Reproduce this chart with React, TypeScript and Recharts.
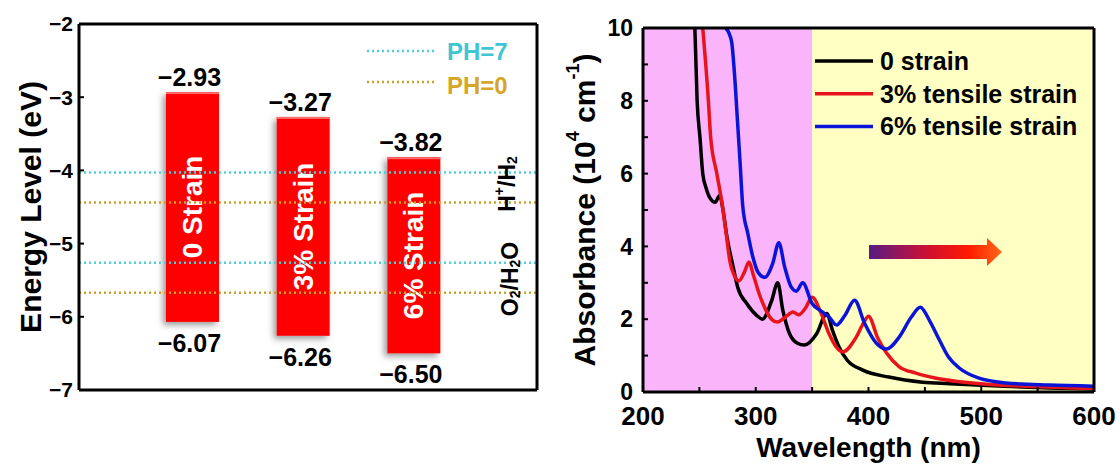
import React from "react";
import {
  Bar,
  BarChart,
  Label,
  Legend,
  Line,
  LineChart,
  ReferenceArea,
  ReferenceLine,
  XAxis,
  YAxis,
} from "recharts";

const FONT = '"Liberation Sans", Arial, Helvetica, sans-serif';

// left panel: band edges (eV)
const strainNames = ["0 Strain", "3% Strain", "6% Strain"];
const cbmLevels = [-2.93, -3.27, -3.82];
const vbmLevels = [-6.07, -6.26, -6.5];
const energyTicks = [-7, -6, -5, -4, -3, -2];
const ph7Levels = [-4.03, -5.26];
const ph0Levels = [-4.44, -5.67];

// right panel: absorbance (10^4 cm^-1) vs wavelength (nm)
const noStrain: [number, number][] = [
  [246, 10], [248, 8], [250.5, 7], [253, 6], [256, 5.6], [260, 5.3], [264, 5.21],
  [268, 5.4], [271, 5.0], [274, 4.35], [280, 3.43], [284, 2.88], [292, 2.43],
  [301, 2.1], [306, 2.0], [314, 2.5], [319.5, 3.0], [324, 2.25], [330, 1.6],
  [337, 1.34], [343, 1.29], [354, 1.6], [363, 2.16], [368, 1.7], [374, 1.23],
  [381, 0.88], [395, 0.6], [418, 0.41], [448, 0.27], [472, 0.23], [520, 0.16],
  [560, 0.11], [600, 0.08],
];
const tensile3: [number, number][] = [
  [253, 10], [258, 8], [260, 7], [265.5, 6], [270, 5.2], [274, 4.3], [277, 3.6],
  [281, 3.2], [285, 3.05], [290, 3.3], [294, 3.57], [298, 3.2], [303, 2.7],
  [309, 2.25], [314, 2.0], [319, 1.92], [326, 2.05], [333, 2.2], [338, 2.12],
  [344, 2.3], [350, 2.6], [358, 2.16], [365, 1.6], [371.5, 1.23], [377, 1.1],
  [389, 1.5], [396, 1.92], [400, 2.08], [408, 1.5], [416, 1.07], [427, 0.7],
  [442, 0.52], [460, 0.38], [492, 0.25], [540, 0.16], [600, 0.1],
];
const tensile6: [number, number][] = [
  [273.5, 10], [278.5, 9.64], [281, 8.8], [283.8, 7.45], [286, 6.36], [288.5, 5.1],
  [293, 4.35], [297.5, 3.7], [302, 3.29], [308, 3.15], [315, 3.53], [320.5, 4.1],
  [325.7, 3.43], [331.5, 2.88], [336, 2.77], [341.6, 3.0], [350, 2.43], [359, 2.2],
  [365, 2.06], [371.6, 1.84], [379, 2.1], [387.6, 2.52], [396.5, 1.89], [407, 1.34],
  [416, 1.18], [427, 1.5], [438, 2.06], [446, 2.33], [454, 1.97], [463, 1.42],
  [471, 0.96], [480.5, 0.66], [498, 0.38], [522, 0.25], [560, 0.19], [600, 0.16],
];
const wavelengthTicks = [200, 250, 300, 350, 400, 450, 500, 550, 600];
const absorbanceTicks = [0, 1, 2, 3, 4, 5, 6, 7, 8, 9, 10];

const minus = (v: number, digits = 0) =>
  v < 0 ? "\u2212" + Math.abs(v).toFixed(digits) : v.toFixed(digits);

const bandData = strainNames.map((name, i) => ({
  name,
  band: [vbmLevels[i], cbmLevels[i]],
  cbm: cbmLevels[i],
  vbm: vbmLevels[i],
}));

const toPoints = (arr: [number, number][]) => arr.map(([wl, a]) => ({ wl, a }));

function StrainBar(props: any) {
  const { x, y, width, height, payload } = props;
  const cx = x + width / 2;
  return (
    <g>
      <rect x={x} y={y} width={width} height={height} fill="#ff0000" filter="url(#barShadow)" />
      <rect x={x} y={y} width={width} height={2} fill="#ff6a6a" />
      <text
        x={cx}
        y={y + height / 2}
        transform={`rotate(-90 ${cx} ${y + height / 2})`}
        textAnchor="middle"
        dominantBaseline="central"
        fill="#fff"
        fontSize={28}
        fontWeight="bold"
        fontFamily={FONT}
      >
        {payload.name}
      </text>
      <text x={cx - 3} y={y - 6} textAnchor="middle" fontSize={25} fontWeight="bold" fontFamily={FONT}>
        {minus(payload.cbm, 2)}
      </text>
      <text x={cx - 3} y={y + height + 30} textAnchor="middle" fontSize={25} fontWeight="bold" fontFamily={FONT}>
        {minus(payload.vbm, 2)}
      </text>
    </g>
  );
}

function SpectraLegend({ payload }: any) {
  return (
    <svg width={300} height={120}>
      {(payload || []).map((p: any, i: number) => (
        <g key={p.value}>
          <line x1={0} x2={58} y1={14 + i * 32.7} y2={14 + i * 32.7} stroke={p.color} strokeWidth={3.5} />
          <text x={65} y={14 + i * 32.7 + 9} fontSize={25} fontWeight="bold" fontFamily={FONT}>
            {p.value}
          </text>
        </g>
      ))}
    </svg>
  );
}

const tickStyle = (size: number) => ({
  fontSize: size,
  fontWeight: "bold",
  fontFamily: FONT,
  fill: "#000",
});

export default function App() {
  return (
    <div style={{ position: "absolute", left: 0, top: 0, width: 1120, height: 465, background: "#fff" }}>
      <div style={{ position: "absolute", left: 0, top: 0 }}>
        <BarChart
          width={560}
          height={465}
          data={bandData}
          margin={{ top: 23, right: 22, bottom: 74, left: 0 }}
        >
          <defs>
            <filter id="barShadow" x="-40%" y="-10%" width="180%" height="130%">
              <feDropShadow dx={-3} dy={3} stdDeviation={3} floodColor="#555" floodOpacity={0.6} />
            </filter>
          </defs>
          <XAxis
            dataKey="name"
            padding={{ left: 58, right: 68 }}
            tick={false}
            tickLine={false}
            height={1}
            axisLine={{ stroke: "#000", strokeWidth: 3 }}
          />
          <XAxis
            xAxisId="top"
            orientation="top"
            dataKey="name"
            tick={false}
            tickLine={false}
            height={1}
            axisLine={{ stroke: "#000", strokeWidth: 3 }}
          />
          <YAxis
            domain={[-7, -2]}
            ticks={energyTicks}
            width={79}
            tickSize={-5}
            tickMargin={11}
            tickFormatter={(v: number) => minus(v)}
            tick={tickStyle(21)}
            tickLine={{ stroke: "#000", strokeWidth: 2 }}
            axisLine={{ stroke: "#000", strokeWidth: 3 }}
          >
            <Label
              content={({ viewBox }: any) => {
                const cy = viewBox.y + viewBox.height / 2;
                return (
                  <text
                    x={30}
                    y={cy}
                    transform={`rotate(-90 30 ${cy})`}
                    textAnchor="middle"
                    dominantBaseline="central"
                    fontSize={30}
                    fontWeight="bold"
                    fontFamily={FONT}
                  >
                    Energy Level (eV)
                  </text>
                );
              }}
            />
          </YAxis>
          <YAxis
            yAxisId="right"
            orientation="right"
            domain={[-7, -2]}
            ticks={energyTicks}
            width={1}
            tick={false}
            tickSize={-5}
            tickLine={{ stroke: "#000", strokeWidth: 2 }}
            axisLine={{ stroke: "#000", strokeWidth: 3 }}
          />
          {ph7Levels.map((v) => (
            <ReferenceLine key={"p7" + v} y={v} stroke="#4fcfdc" strokeWidth={2.5} strokeDasharray="2 3" />
          ))}
          {ph0Levels.map((v) => (
            <ReferenceLine key={"p0" + v} y={v} stroke="#c9a22a" strokeWidth={2.5} strokeDasharray="2 3" />
          ))}
          <Bar dataKey="band" barSize={53} shape={StrainBar} isAnimationActive={false} />
        </BarChart>
      </div>

      <div style={{ position: "absolute", left: 540, top: 0 }}>
        <LineChart width={580} height={465} margin={{ top: 27, right: 25, bottom: 0, left: 0 }}>
          <XAxis
            dataKey="wl"
            type="number"
            domain={[200, 600]}
            ticks={wavelengthTicks}
            tickFormatter={(v: number) => (v % 100 === 0 ? String(v) : "")}
            height={73}
            tickSize={-5}
            tickMargin={20}
            tick={tickStyle(26)}
            tickLine={{ stroke: "#000", strokeWidth: 2 }}
            axisLine={{ stroke: "#000", strokeWidth: 3 }}
            allowDataOverflow
          >
            <Label
              content={({ viewBox }: any) => (
                <text
                  x={viewBox.x + viewBox.width / 2}
                  y={viewBox.y + 65}
                  textAnchor="middle"
                  fontSize={28}
                  fontWeight="bold"
                  fontFamily={FONT}
                >
                  Wavelength (nm)
                </text>
              )}
            />
          </XAxis>
          <XAxis
            xAxisId="top"
            orientation="top"
            type="number"
            domain={[200, 600]}
            tick={false}
            tickLine={false}
            height={1}
            axisLine={{ stroke: "#000", strokeWidth: 3 }}
          />
          <YAxis
            domain={[0, 10]}
            ticks={absorbanceTicks}
            tickFormatter={(v: number) => (v % 2 === 0 ? String(v) : "")}
            width={103}
            tickSize={-5}
            tickMargin={15}
            tick={tickStyle(23)}
            tickLine={{ stroke: "#000", strokeWidth: 2 }}
            axisLine={{ stroke: "#000", strokeWidth: 3 }}
            allowDataOverflow
          >
            <Label
              content={({ viewBox }: any) => {
                const cx = viewBox.x + 44;
                const cy = viewBox.y + viewBox.height / 2;
                return (
                  <text
                    x={cx}
                    y={cy}
                    transform={`rotate(-90 ${cx} ${cy})`}
                    textAnchor="middle"
                    dominantBaseline="central"
                    fontSize={30}
                    fontWeight="bold"
                    fontFamily={FONT}
                  >
                    Absorbance (10
                    <tspan fontSize={18} dy={-11}>4</tspan>
                    <tspan dy={11}> cm</tspan>
                    <tspan fontSize={18} dy={-11}>-1</tspan>
                    <tspan dy={11}>)</tspan>
                  </text>
                );
              }}
            />
          </YAxis>
          <YAxis
            yAxisId="right"
            orientation="right"
            domain={[0, 10]}
            width={1}
            tick={false}
            tickLine={false}
            axisLine={{ stroke: "#000", strokeWidth: 3 }}
          />
          <ReferenceArea x1={200} x2={350} y1={0} y2={10} fill="#fab4fa" fillOpacity={1} stroke="none" />
          <ReferenceArea x1={350} x2={600} y1={0} y2={10} fill="#ffffc4" fillOpacity={1} stroke="none" />
          <Line
            data={toPoints(noStrain)}
            dataKey="a"
            name="0 strain"
            type="monotone"
            stroke="#000000"
            strokeWidth={3.5}
            dot={false}
            isAnimationActive={false}
          />
          <Line
            data={toPoints(tensile3)}
            dataKey="a"
            name="3% tensile strain"
            type="monotone"
            stroke="#e8141c"
            strokeWidth={3.5}
            dot={false}
            isAnimationActive={false}
          />
          <Line
            data={toPoints(tensile6)}
            dataKey="a"
            name="6% tensile strain"
            type="monotone"
            stroke="#0a14d8"
            strokeWidth={3.5}
            dot={false}
            isAnimationActive={false}
          />
          <Legend
            layout="vertical"
            align="center"
            verticalAlign="middle"
            content={SpectraLegend}
            wrapperStyle={{ position: "absolute", left: 275, top: 47, width: 300, height: 120 }}
          />
        </LineChart>
      </div>

      <svg
        width={1120}
        height={465}
        style={{ position: "absolute", left: 0, top: 0, pointerEvents: "none" }}
      >
        <defs>
          <linearGradient id="shiftGrad" x1="0" x2="1" y1="0" y2="0">
            <stop offset="0" stopColor="#581c84" />
            <stop offset="0.45" stopColor="#d0102e" />
            <stop offset="0.75" stopColor="#ff1a00" />
            <stop offset="1" stopColor="#ff6a1a" />
          </linearGradient>
        </defs>
        <polygon
          points="869,245 987,245 987,238 1002,252 987,266 987,259 869,259"
          fill="url(#shiftGrad)"
        />
        <line x1={367} x2={435} y1={51} y2={51} stroke="#4fcfdc" strokeWidth={2.5} strokeDasharray="2 3" />
        <text x={447} y={60} fill="#40c6d2" fontSize={24} fontWeight="bold" fontFamily={FONT}>
          PH=7
        </text>
        <line x1={367} x2={435} y1={82} y2={82} stroke="#c9a22a" strokeWidth={2.5} strokeDasharray="2 3" />
        <text x={447} y={94} fill="#d6a628" fontSize={24} fontWeight="bold" fontFamily={FONT}>
          PH=0
        </text>
        <text
          x={507}
          y={184}
          transform="rotate(-90 507 184)"
          textAnchor="middle"
          dominantBaseline="central"
          fontSize={23}
          fontWeight="bold"
          fontFamily={FONT}
        >
          H<tspan fontSize={14} dy={-8}>+</tspan>
          <tspan dy={8}>/H</tspan>
          <tspan fontSize={14} dy={5}>2</tspan>
        </text>
        <text
          x={510}
          y={279}
          transform="rotate(-90 510 279)"
          textAnchor="middle"
          dominantBaseline="central"
          fontSize={23}
          fontWeight="bold"
          fontFamily={FONT}
        >
          O<tspan fontSize={14} dy={5}>2</tspan>
          <tspan dy={-5}>/H</tspan>
          <tspan fontSize={14} dy={5}>2</tspan>
          <tspan dy={-5}>O</tspan>
        </text>
      </svg>
    </div>
  );
}
